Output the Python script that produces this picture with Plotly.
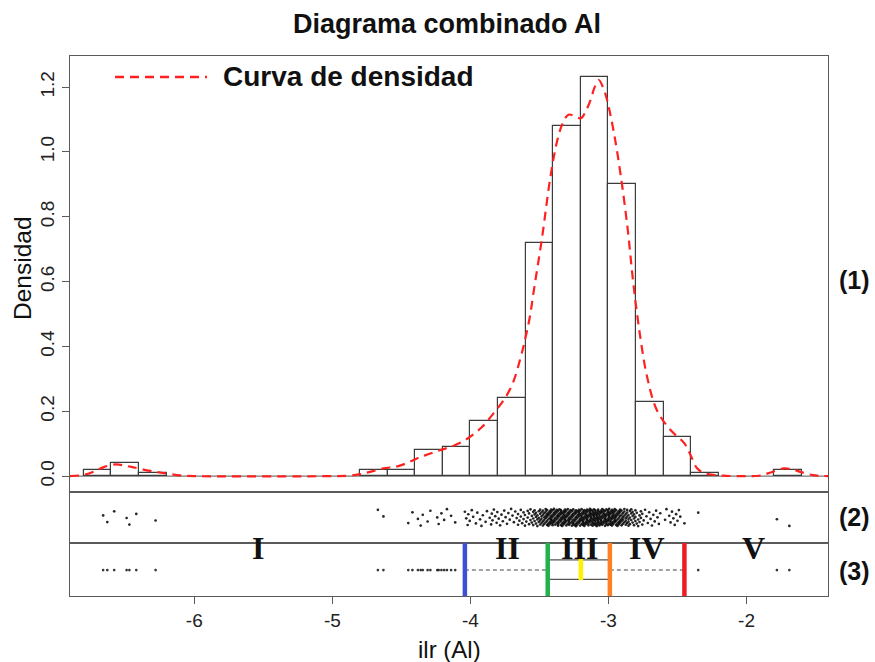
import numpy as np
import plotly.graph_objects as go

# ---- histogram of ilr(Al): left edge of each 0.2-wide bin and its density ----
bin_left = [-6.8, -6.6, -6.4, -4.8, -4.6, -4.4, -4.2, -4.0, -3.8, -3.6,
            -3.4, -3.2, -3.0, -2.8, -2.6, -2.4, -1.8]
bin_density = [0.02, 0.04, 0.01, 0.02, 0.02, 0.08, 0.09, 0.17, 0.24, 0.72,
               1.08, 1.23, 0.90, 0.23, 0.12, 0.01, 0.02]
bin_width = 0.2

# ---- kernel density curve ----
dens_x = [-6.90, -6.80, -6.72, -6.66, -6.57, -6.50, -6.44, -6.32, -6.20, -6.10,
          -6.00, -5.00, -4.88, -4.80, -4.72, -4.63, -4.53, -4.45, -4.38, -4.30,
          -4.22, -4.12, -4.02, -3.92, -3.83, -3.75, -3.69, -3.64, -3.61, -3.57,
          -3.54, -3.48, -3.42, -3.37, -3.33, -3.29, -3.24, -3.20, -3.16, -3.13,
          -3.10, -3.07, -3.04, -3.01, -2.96, -2.91, -2.86, -2.82, -2.77, -2.72,
          -2.65, -2.55, -2.45, -2.40, -2.36, -2.31, -2.26, -2.15, -2.00, -1.90,
          -1.82, -1.73, -1.66, -1.61, -1.52, -1.41]
dens_y = [0.000, 0.004, 0.015, 0.027, 0.036, 0.032, 0.027, 0.016, 0.008, 0.002,
          0.000, 0.000, 0.001, 0.006, 0.014, 0.024, 0.030, 0.042, 0.056, 0.068,
          0.080, 0.094, 0.116, 0.150, 0.195, 0.240, 0.290, 0.360, 0.410, 0.490,
          0.574, 0.739, 0.924, 1.037, 1.090, 1.115, 1.110, 1.104, 1.130, 1.160,
          1.200, 1.222, 1.200, 1.160, 1.058, 0.924, 0.759, 0.595, 0.430, 0.306,
          0.204, 0.142, 0.101, 0.060, 0.025, 0.010, 0.005, 0.001, 0.000, 0.002,
          0.012, 0.024, 0.020, 0.013, 0.003, 0.000]

# ---- observations (value, number of samples at that value) ----
obs_value = [
    -6.66, -6.63, -6.58, -6.49, -6.47, -6.42, -6.28,
    -4.67, -4.63, -4.45, -4.42,
    -4.38, -4.36, -4.345, -4.31, -4.29, -4.24, -4.23, -4.21,
    -4.19, -4.17, -4.14, -4.11, -4.04, -4.03, -4.02, -4.015, -4.005,
    -3.99, -3.98, -3.96, -3.95, -3.93, -3.92, -3.91, -3.89, -3.88, -3.86,
    -3.85, -3.845, -3.84, -3.83, -3.82, -3.81, -3.805,
    -3.795, -3.785, -3.775, -3.765, -3.755, -3.745, -3.735, -3.725, -3.715, -3.705,
    -3.695, -3.685, -3.675, -3.665, -3.655, -3.645, -3.635, -3.625, -3.615, -3.605,
    -3.595, -3.585, -3.575, -3.565, -3.555, -3.545, -3.535, -3.525, -3.515, -3.505,
    -3.495, -3.485, -3.475, -3.465, -3.455, -3.445, -3.435, -3.425, -3.415, -3.405,
    -3.395, -3.385, -3.375, -3.365, -3.355, -3.345, -3.335, -3.325, -3.315, -3.305,
    -3.295, -3.285, -3.275, -3.265, -3.255, -3.245, -3.235, -3.225, -3.215, -3.205,
    -3.195, -3.185, -3.175, -3.165, -3.155, -3.145, -3.135, -3.125, -3.115, -3.105,
    -3.095, -3.085, -3.075, -3.065, -3.055, -3.045, -3.035, -3.025, -3.015, -3.005,
    -2.995, -2.985, -2.975, -2.965, -2.955, -2.945, -2.935, -2.925, -2.915, -2.905,
    -2.895, -2.885, -2.875, -2.865, -2.855, -2.845, -2.835, -2.825, -2.815, -2.805,
    -2.795, -2.785, -2.775, -2.765, -2.755, -2.745, -2.735, -2.725, -2.715, -2.705,
    -2.695, -2.685, -2.675, -2.665, -2.655, -2.645, -2.635, -2.625,
    -2.59, -2.58, -2.56, -2.55, -2.54, -2.53, -2.52, -2.51, -2.50, -2.49, -2.48, -2.45,
    -2.35, -1.78, -1.69,
]
obs_count = [
    1, 1, 1, 1, 1, 1, 1,
    1, 1, 1, 1,
    1, 1, 1, 1, 1, 1, 1, 1,
    1, 1, 1, 1, 1, 1, 1, 1, 1,
    1, 1, 1, 1, 1, 1, 1, 1, 1, 1,
    1, 1, 1, 1, 1, 1, 1,
    1, 1, 1, 1, 1, 1, 1, 1, 1, 1,
    1, 1, 1, 1, 2, 1, 2, 1, 2, 2,
    1, 2, 2, 2, 2, 3, 3, 3, 3, 3,
    4, 4, 4, 4, 5, 5, 5, 5, 6, 6,
    5, 5, 5, 6, 5, 6, 5, 6, 6, 5,
    5, 6, 5, 5, 6, 5, 6, 5, 6, 5,
    6, 6, 6, 6, 6, 6, 6, 6, 7, 6,
    7, 6, 7, 6, 6, 6, 6, 6, 6, 6,
    6, 6, 6, 6, 6, 5, 5, 5, 5, 5,
    4, 4, 4, 4, 4, 3, 3, 3, 3, 3,
    2, 2, 2, 2, 2, 1, 1, 1, 1, 1,
    1, 1, 1, 1, 1, 1, 1, 1,
    1, 1, 1, 1, 1, 1, 1, 1, 1, 1, 1, 1,
    1, 1, 1,
]

# ---- boxplot summary (whisker ends, quartiles, median) ----
whisker_low = -4.04
q1 = -3.44
median = -3.20
q3 = -2.99
whisker_high = -2.45

# ---- class labels for the intervals ----
class_labels = ["I", "II", "III", "IV", "V"]
class_pos = [-5.54, -3.73, -3.21, -2.72, -1.95]

x_tickvals = [-6, -5, -4, -3, -2]
x_ticktext = ["-6", "-5", "-4", "-3", "-2"]
y_tickvals = [0, 0.2, 0.4, 0.6, 0.8, 1.0, 1.2]
y_ticktext = ["0.0", "0.2", "0.4", "0.6", "0.8", "1.0", "1.2"]

X_RANGE = [-6.90, -1.41]
W, H = 875, 662
FONT = "Liberation Sans, Arial, sans-serif"
FRAME = "#5a5a5a"


def px(xp):
    return xp / W


def py(yp):
    return 1 - yp / H


samples = np.repeat(np.array(obs_value), np.array(obs_count))
idx = np.arange(1, samples.size + 1)
jitter = 0.5 + 0.17 * (2 * ((idx * 0.6180339887) % 1.0) - 1)
out_mask = (samples < whisker_low) | (samples > whisker_high)

fig = go.Figure()

# (1) histogram + density
fig.add_trace(go.Bar(
    x=bin_left, y=bin_density, width=bin_width, offset=0,
    marker=dict(color="white", line=dict(color="#3c3c3c", width=1.2)),
    xaxis="x", yaxis="y", showlegend=False, hoverinfo="skip"))
fig.add_trace(go.Scatter(
    x=dens_x, y=dens_y, mode="lines", line_shape="spline",
    line=dict(color="#ff2020", width=2.2, dash="9px,6px"),
    xaxis="x", yaxis="y", showlegend=False, name="Curva de densidad"))

# (2) jittered strip of all observations
fig.add_trace(go.Scatter(
    x=samples, y=jitter, mode="markers",
    marker=dict(color="rgba(0,0,0,0.85)", size=2.7, line=dict(width=0)),
    xaxis="x2", yaxis="y2", showlegend=False, hoverinfo="skip"))

# (3) boxplot: whiskers, box, outliers
fig.add_trace(go.Scatter(
    x=[whisker_low, q1, None, q3, whisker_high], y=[0.49, 0.49, None, 0.49, 0.49],
    mode="lines", line=dict(color="#444", width=1.1, dash="4px,3px"),
    xaxis="x3", yaxis="y3", showlegend=False, hoverinfo="skip"))
fig.add_trace(go.Scatter(
    x=[q1, q3, None, q1, q3], y=[0.68, 0.68, None, 0.315, 0.315],
    mode="lines", line=dict(color="#555", width=1.2),
    xaxis="x3", yaxis="y3", showlegend=False, hoverinfo="skip"))
fig.add_trace(go.Scatter(
    x=samples[out_mask], y=np.full(out_mask.sum(), 0.49), mode="markers",
    marker=dict(color="rgba(20,20,20,0.85)", size=2.7, line=dict(width=0)),
    xaxis="x3", yaxis="y3", showlegend=False, hoverinfo="skip"))

shapes = [
    # baseline of the density panel
    dict(type="line", xref="x domain", yref="y", x0=0, x1=1, y0=0, y1=0,
         line=dict(color="#777", width=1.2), layer="below"),
    # legend key
    dict(type="line", xref="paper", yref="paper", x0=px(115), x1=px(207),
         y0=py(77), y1=py(77), line=dict(color="#ff2020", width=2.4, dash="9px,6px")),
]
for xv, col in [(whisker_low, "#3f4fd4"), (q1, "#22b14c"),
                (q3, "#ff7f27"), (whisker_high, "#ed1c24")]:
    shapes.append(dict(type="line", xref="x3", yref="y3", x0=xv, x1=xv, y0=0, y1=1,
                       line=dict(color=col, width=4.5)))
shapes.append(dict(type="line", xref="x3", yref="y3", x0=median, x1=median,
                   y0=0.30, y1=0.70, line=dict(color="#fff200", width=4.5)))


def label(text, xp, yp, size, xanchor="center", angle=0, family=FONT):
    return dict(text=text, x=px(xp), y=py(yp), xref="paper", yref="paper",
                xanchor=xanchor, yanchor="middle", textangle=angle, showarrow=False,
                font=dict(family=family, size=size, color="#111"))


annotations = [
    label("<b>Diagrama combinado Al</b>", 447, 24, 27),
    label("<b>Curva de densidad</b>", 221, 77, 28, xanchor="left"),
    label("Densidad", 22, 268, 24.5, angle=-90),
    label("ilr (Al)", 450, 649, 24),
]
for lab, yp in [("(1)", 280), ("(2)", 517), ("(3)", 571)]:
    annotations.append(label(f"<b>{lab}</b>", 854, yp, 25))
for lab, xv in zip(class_labels, class_pos):
    annotations.append(dict(text=f"<b>{lab}</b>", x=xv, y=py(548), xref="x3",
                            yref="paper", xanchor="center", yanchor="middle",
                            showarrow=False,
                            font=dict(family="Liberation Serif, Times New Roman, serif",
                                      size=32, color="#111")))

dom_x = [px(70), px(828)]
frame = dict(showline=True, mirror=True, linecolor=FRAME, linewidth=1.4,
             showgrid=False, zeroline=False)

fig.update_layout(
    width=W, height=H, autosize=False,
    margin=dict(l=0, r=0, t=0, b=0),
    paper_bgcolor="white", plot_bgcolor="white",
    font=dict(family=FONT, color="#111"),
    bargap=0,
    xaxis=dict(domain=dom_x, range=X_RANGE, anchor="y", showticklabels=False,
               ticks="", **frame),
    yaxis=dict(domain=[py(492), py(56)], range=[-0.049, 1.296], anchor="x",
               tickvals=y_tickvals, ticktext=y_ticktext,
               ticks="outside", ticklen=7, tickcolor=FRAME, tickangle=-90,
               tickfont=dict(size=19, color="#222"), **frame),
    xaxis2=dict(domain=dom_x, range=X_RANGE, anchor="y2", matches="x",
                showticklabels=False, ticks="", **frame),
    yaxis2=dict(domain=[py(543), py(492)], range=[0, 1], anchor="x2",
                showticklabels=False, ticks="", **frame),
    xaxis3=dict(domain=dom_x, range=X_RANGE, anchor="y3", matches="x",
                tickvals=x_tickvals, ticktext=x_ticktext, ticks="outside", ticklen=7,
                tickcolor=FRAME, tickfont=dict(size=19, color="#222"), **frame),
    yaxis3=dict(domain=[py(596), py(543)], range=[0, 1], anchor="x3",
                showticklabels=False, ticks="", **frame),
    shapes=shapes,
    annotations=annotations,
)

fig.write_html("out.html")
